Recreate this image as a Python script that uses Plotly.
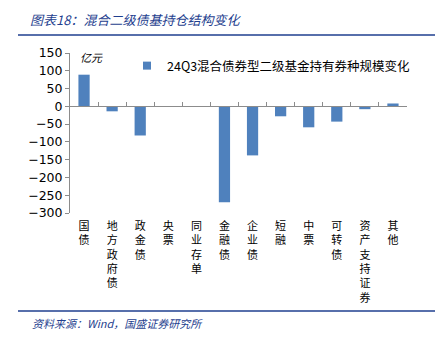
import plotly.graph_objects as go

categories = ["国债", "地方政府债", "政金债", "央票", "同业存单", "金融债", "企业债",
              "短融", "中票", "可转债", "资产支持证券", "其他"]
values = [89, -14, -82, 0, 0, -270, -138, -28, -59, -43, -8, 8]
series_name = "24Q3混合债券型二级基金持有券种规模变化"
y_ticks = [150, 100, 50, 0, -50, -100, -150, -200, -250, -300]
y_range = [-300, 150]

tick_text = ["<br>".join(list(c)) for c in categories]
zero_pos = (0 - y_range[0]) / (y_range[1] - y_range[0])

BLUE = "#4F81BD"
TITLE_BLUE = "#1F3F8F"
AXIS = "#8C8C8C"

fig = go.Figure()
fig.add_trace(go.Bar(x=categories, y=values, name=series_name, marker_color=BLUE,
                     marker_line_width=0, xaxis="x", yaxis="y", showlegend=False))
fig.add_trace(go.Bar(x=categories, y=values, showlegend=False, opacity=0,
                     hoverinfo="skip", xaxis="x2", yaxis="y"))
# legend entry: small square like the reference
fig.add_trace(go.Scatter(x=[None], y=[None], mode="markers", name=series_name,
                         marker=dict(symbol="square", size=8, color=BLUE),
                         xaxis="x", yaxis="y", showlegend=True))

W, H = 437, 339
PW, PH = W - 100, H - 179
fig.update_layout(
    width=W, height=H,
    margin=dict(l=70, r=30, t=53, b=126),
    paper_bgcolor="white", plot_bgcolor="white",
    bargap=0.6, barmode="overlay",
    font=dict(family="Noto Sans CJK SC", color="black"),
    xaxis=dict(type="category", categoryorder="array", categoryarray=categories,
               tickmode="array", tickvals=categories, ticktext=tick_text,
               showline=False, ticks="", showgrid=False, zeroline=False,
               tickfont=dict(size=11, family="Noto Sans CJK SC"), tickangle=0,
               ticklabelstandoff=5),
    xaxis2=dict(type="category", overlaying="x", matches="x", anchor="free",
                position=zero_pos, side="bottom", showline=True, linecolor=AXIS,
                linewidth=1, ticks="inside", tickson="boundaries", ticklen=4,
                tickcolor=AXIS, showticklabels=False, showgrid=False, zeroline=False),
    yaxis=dict(range=y_range, tickmode="array", tickvals=y_ticks,
               showline=True, linecolor=AXIS, linewidth=1, ticks="outside",
               ticklen=4, tickcolor=AXIS, showgrid=False, zeroline=False,
               tickfont=dict(size=12.5, family="DejaVu Sans", color="black")),
    legend=dict(x=(127 - 70) / PW, y=1 - (66 - 53) / PH,
                xanchor="left", yanchor="middle", bgcolor="rgba(0,0,0,0)",
                font=dict(size=12.5, family="Noto Sans CJK SC"),
                itemwidth=30, tracegroupgap=0),
    showlegend=True,
)

# title, source and decorative lines
fig.add_annotation(text="<i>图表18：混合二级债基持仓结构变化</i>", xref="paper", yref="paper",
                   x=-(70 - 28) / PW, y=1 + (53 - 20) / PH,
                   xanchor="left", yanchor="middle", showarrow=False,
                   font=dict(size=13, color=TITLE_BLUE, family="Noto Sans CJK SC"))
fig.add_annotation(text="<i>资料来源：Wind，国盛证券研究所</i>", xref="paper", yref="paper",
                   x=-(70 - 30) / PW, y=-(323 - 213) / PH,
                   xanchor="left", yanchor="middle", showarrow=False,
                   font=dict(size=11, color=TITLE_BLUE, family="Noto Sans CJK SC"))
fig.add_annotation(text="<i>亿元</i>", xref="paper", yref="paper",
                   x=(78 - 70) / PW, y=1 - (57 - 53) / PH,
                   xanchor="left", yanchor="middle", showarrow=False,
                   font=dict(size=11, color="black", family="Noto Sans CJK SC"))
fig.add_shape(type="line", xref="paper", yref="paper",
              x0=-(70 - 18) / PW, x1=1 + (30 - 2) / PW,
              y0=1 + (53 - 35) / PH, y1=1 + (53 - 35) / PH,
              line=dict(color=TITLE_BLUE, width=1.5))
fig.add_shape(type="line", xref="paper", yref="paper",
              x0=-(70 - 18) / PW, x1=1 + (30 - 2) / PW,
              y0=-(311 - 213) / PH, y1=-(311 - 213) / PH,
              line=dict(color=TITLE_BLUE, width=1.5))

fig.write_html("out.html")
